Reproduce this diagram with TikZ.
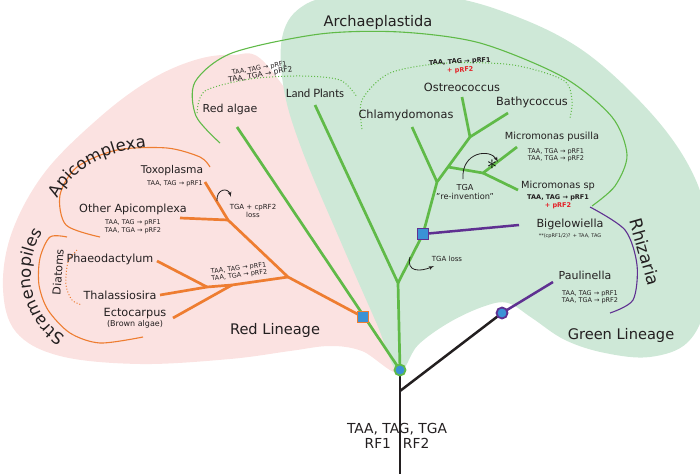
\documentclass[tikz,border=0pt]{standalone}
\usepackage{fontspec}
\setmainfont{DejaVu Sans}
\newfontfamily\plantfont{Lato}
\usepackage{tikz}
\usetikzlibrary{positioning}
\usetikzlibrary{shapes,arrows}
\usetikzlibrary{decorations.text}

\definecolor{leafgreen}{RGB}{96,186,72}
\definecolor{greenbg}{RGB}{206,232,215}
\definecolor{redbg}{RGB}{251,226,225}
\definecolor{rustorange}{RGB}{238,125,49}
\definecolor{rhizpurple}{RGB}{95,48,145}
\definecolor{nodeblue}{RGB}{58,146,214}
\definecolor{gainred}{RGB}{228,32,38}
\definecolor{inkgray}{RGB}{35,31,32}

\newcommand{\ptsize}[1]{\fontsize{#1}{#1}\selectfont}

\tikzstyle{greenbranch} = [draw=leafgreen, line width=2.7pt]
\tikzstyle{redbranch} = [draw=rustorange, line width=2.7pt]
\tikzstyle{rhizbranch} = [draw=rhizpurple, line width=2.5pt]
\tikzstyle{stem} = [draw=inkgray, line width=2.5pt]
\tikzstyle{cladearc} = [line width=1.1pt]
\tikzstyle{dots} = [line width=1pt, dash pattern=on 1pt off 2pt]
\tikzstyle{taxon} = [inner sep=0pt, text=inkgray, font=\ptsize{11}]
\tikzstyle{stopcodes} = [inner sep=0pt, text=inkgray, align=center,
                font=\fontsize{6.5}{7}\selectfont]
\tikzstyle{lineage} = [inner sep=0pt, text=inkgray, font=\ptsize{14.6}]
\tikzstyle{rootlbl} = [inner sep=0pt, text=inkgray, font=\ptsize{13.8}]
\tikzstyle{note} = [inner sep=0pt, text=inkgray, align=center,
                font=\fontsize{7}{7.5}\selectfont]
\tikzstyle{line} = [draw=inkgray, line width=0.8pt, -latex']
\tikzstyle{event} = [circle, fill=nodeblue, minimum size=11pt, inner sep=0pt, line width=1.8pt]
\tikzstyle{transfer} = [rectangle, fill=nodeblue, minimum size=11pt, inner sep=0pt, line width=1.6pt]

\begin{document}
\begin{tikzpicture}[x=1pt, y=-1pt]
    \useasboundingbox (0,0) rectangle (700,473);

    % lineage backgrounds
    \fill[redbg] plot[smooth cycle, tension=0.6] coordinates {(398,370) (362,351) (330,346) (290,351)
        (230,359) (140,364) (60,356) (16,332) (3,288) (12,232) (45,172) (100,117) (150,80) (195,60)
        (232,55) (265,63) (320,150) (370,290)};
    \fill[greenbg] plot[smooth cycle, tension=0.6] coordinates {(398,372) (418,345) (450,322) (485,306)
        (508,303) (532,318) (565,340) (605,353) (650,357) (688,342) (706,300) (706,220) (690,168)
        (650,112) (585,52) (515,16) (440,-4) (340,-4) (300,8) (282,38) (284,90) (302,150) (340,240)
        (376,322)};

    % clade brackets
    \draw[leafgreen, cladearc] plot[smooth] coordinates {(220,143) (196,116) (195,82) (232,53) (320,34)
        (400,32) (480,43) (563,77) (612,117) (627,155) (615,186) (592,206)};
    \draw[leafgreen, dots] plot[smooth] coordinates {(197,113) (205,91) (250,79) (300,76) (340,80) (357,97)};
    \draw[leafgreen, dots] plot[smooth] coordinates {(362,129) (362,100) (390,73) (447,63) (513,65)
        (563,80) (572,100) (570,118)};
    \draw[rustorange, cladearc] plot[smooth] coordinates {(100,237) (66,225) (60,195) (77,167) (117,150)
        (167,148) (200,157) (210,167)};
    \draw[rustorange, cladearc] plot[smooth] coordinates {(67,237) (50,237) (40,258) (39,285) (48,310)
        (70,333) (100,343) (143,337)};
    \draw[rustorange, dots] plot[smooth] coordinates {(77,250) (68,262) (66,285) (72,300) (82,305)};
    \draw[rhizpurple, cladearc] plot[smooth] coordinates {(590,207) (625,230) (637,265) (633,300) (610,313)};

    % tree points
    \coordinate (root) at (400,370);
    \coordinate (rootbase) at (400,475);
    \coordinate (blackfork) at (400,391);
    \coordinate (paulnode) at (502,313);
    \coordinate (paultip) at (553,282);
    \coordinate (redalgaetip) at (237,127);
    \coordinate (redsq) at (363,317);
    \coordinate (chromfork) at (288,277);
    \coordinate (alvfork) at (228,220);
    \coordinate (toxotip) at (205,182);
    \coordinate (othertip) at (180,218);
    \coordinate (stramfork) at (232,285);
    \coordinate (ectotip) at (173,318);
    \coordinate (diatfork) at (207,287);
    \coordinate (phaeotip) at (157,261);
    \coordinate (thalatip) at (160,295);
    \coordinate (yfork) at (398,283);
    \coordinate (landtip) at (315,105);
    \coordinate (bigsq) at (423,234);
    \coordinate (bigtip) at (519,225);
    \coordinate (chlfork) at (437,182);
    \coordinate (chltip) at (412,127);
    \coordinate (micjoin) at (448,167);
    \coordinate (ostfork) at (470,137);
    \coordinate (osttip) at (462,97);
    \coordinate (bathytip) at (508,113);
    \coordinate (micfork) at (483,173);
    \coordinate (pustip) at (517,147);
    \coordinate (msptip) at (518,190);

    % green lineage
    \draw[greenbranch] (root) -- (redalgaetip);
    \draw[greenbranch] (root) -- (yfork) -- (landtip);
    \draw[greenbranch] (yfork) -- (bigsq) -- (chlfork) -- (ostfork) -- (bathytip);
    \draw[greenbranch] (chlfork) -- (chltip);
    \draw[greenbranch] (ostfork) -- (osttip);
    \draw[greenbranch] (micjoin) -- (micfork) -- (pustip);
    \draw[greenbranch] (micfork) -- (msptip);
    % red lineage
    \draw[redbranch] (redsq) -- (chromfork) -- (alvfork) -- (toxotip);
    \draw[redbranch] (alvfork) -- (othertip);
    \draw[redbranch] (chromfork) -- (stramfork) -- (diatfork) -- (thalatip);
    \draw[redbranch] (stramfork) -- (ectotip);
    \draw[redbranch] (diatfork) -- (phaeotip);
    % rhizaria
    \draw[stem] (blackfork) -- (paulnode);
    \draw[rhizbranch] (paulnode) -- (paultip);
    \draw[rhizbranch] (bigsq) -- (bigtip);

    % root label
    \node[rootlbl] (rootcodes) at (397,429) {TAA, TAG, TGA};
    \node[rootlbl, below=3pt of rootcodes] (rootrf) {RF1\hspace{12pt}RF2};
    \draw[stem] (rootbase) -- (root);

    % endosymbiosis markers
    \node[event, draw=leafgreen] (rootdot) at (root) {};
    \node[event, draw=rhizpurple] (pauldot) at (paulnode) {};
    \node[transfer, draw=rhizpurple] (bigbox) at (bigsq) {};
    \node[transfer, draw=rustorange] (redbox) at (redsq) {};

    % lineages and clades
    \node[lineage] (archlbl) at (378,22) {Archaeplastida};
    \node[lineage] (redlin) at (275,330) {Red Lineage};
    \node[lineage] (greenlin) at (621,335) {Green Lineage};
    \node[lineage, font=\ptsize{17}, rotate=-74] (rhizlbl) at (645,252) {Rhizaria};
    \path[decorate, decoration={text along path, text align=center,
        text={|\ptsize{16.5}\color{inkgray}|Apicomplexa}}] (53,213) .. controls (62,175) and (100,148) .. (162,146);
    \path[decorate, decoration={text along path, text align=center,
        text={|\ptsize{16.5}\color{inkgray}|Stramenopiles}}] (72,340) .. controls (25,318) and (20,258) .. (48,226);
    \node[taxon, rotate=86] (diatoms) at (58,272) {Diatoms};

    % green taxa
    \node[taxon] (redalgae) at (230,109) {Red algae};
    \node[taxon, font=\plantfont\ptsize{11.5}] (landplants) at (315,93) {Land Plants};
    \node[stopcodes, rotate=10] (redcodes) at (260,72) {TAA, TAG → pRF1\\{\fontsize{7.5}{8}\selectfont TAA, TGA → pRF2}};
    \node[taxon, font=\ptsize{11.3}] (chlamy) at (406,115) {Chlamydomonas};
    \node[taxon, font=\ptsize{11.3}] (ostreo) at (462,87) {Ostreococcus};
    \node[taxon, font=\ptsize{11.3}] (bathy) at (532,102) {Bathycoccus};
    \node[stopcodes, font=\bfseries\fontsize{6.5}{8.5}\selectfont, rotate=3] (greencodes) at (460,66)
        {TAA, TAG → pRF1\\\textcolor{gainred}{+ pRF2}};
    \node[taxon, font=\ptsize{9.8}] (pusilla) at (552,137) {Micromonas pusilla};
    \node[stopcodes, below=7pt of pusilla, xshift=4pt] (pusillacodes) {TAA, TGA → pRF1\\TAA, TGA → pRF2};
    \node[taxon, font=\ptsize{9.8}] (msp) at (558,186) {Micromonas sp};
    \node[stopcodes, font=\bfseries\fontsize{6.5}{8}\selectfont, below=3.5pt of msp] (mspcodes)
        {TAA, TAG → pRF1\\\textcolor{gainred}{+ pRF2}};
    \node[note, font=\fontsize{8.2}{9}\selectfont] (reinvent) at (465,192) {TGA\\"re-invention"};
    \node[font=\ptsize{20}, inner sep=0pt] (star) at (492,165) {$\ast$};
    \node[note] (tgaloss) at (447,259) {TGA loss};

    % rhizaria taxa
    \node[taxon, font=\ptsize{11.2}] (bigelow) at (570,224) {Bigelowiella};
    \node[stopcodes, font=\ptsize{5}, below=3.5pt of bigelow] (bigcodes) {**(cpRF1/2)? + TAA, TAG};
    \node[taxon] (paulin) at (585,275) {Paulinella};
    \node[stopcodes, below=11pt of paulin, xshift=5pt] (paulcodes) {TAA, TAG → pRF1\\TAA, TGA → pRF2};

    % red taxa
    \node[taxon, font=\ptsize{10.7}] (toxo) at (172,171) {Toxoplasma};
    \node[stopcodes, below=4pt of toxo, xshift=3pt] (toxocodes) {TAA, TAG → pRF1};
    \node[taxon, font=\ptsize{11.2}] (otherapi) at (133,209) {Other Apicomplexa};
    \node[stopcodes, font=\fontsize{6.5}{7.5}\selectfont, below=5pt of otherapi] (othercodes)
        {TAA, TAG → pRF1\\TAA, TGA → pRF2};
    \node[note] (cploss) at (253,211) {TGA + cpRF2\\loss};
    \node[taxon, font=\ptsize{11.2}] (phaeo) at (110,259) {Phaeodactylum};
    \node[taxon, font=\ptsize{11.2}] (thala) at (120,295) {Thalassiosira};
    \node[taxon, font=\ptsize{11.3}] (ecto) at (135,314) {Ectocarpus};
    \node[taxon, font=\ptsize{8}, below=0.5pt of ecto] (brown) {(Brown algae)};
    \node[stopcodes, rotate=7] (stramcodes) at (239,272) {TAA, TAG → pRF1\\TAA, TGA → pRF2};

    % codon events
    \coordinate (lossA) at (217,201);
    \coordinate (lossB) at (231,197);
    \draw[line] (lossA) .. controls (216,189) and (228,187) .. (lossB);
    \coordinate (reinvA) at (463,179);
    \coordinate (reinvB) at (498,162);
    \draw[line] (reinvA) .. controls (461,152) and (490,148) .. (reinvB);
    \coordinate (tgalossA) at (410,257);
    \coordinate (tgalossB) at (434,266);
    \draw[line] (tgalossA) .. controls (406,272) and (420,272) .. (tgalossB);
\end{tikzpicture}
\end{document}
